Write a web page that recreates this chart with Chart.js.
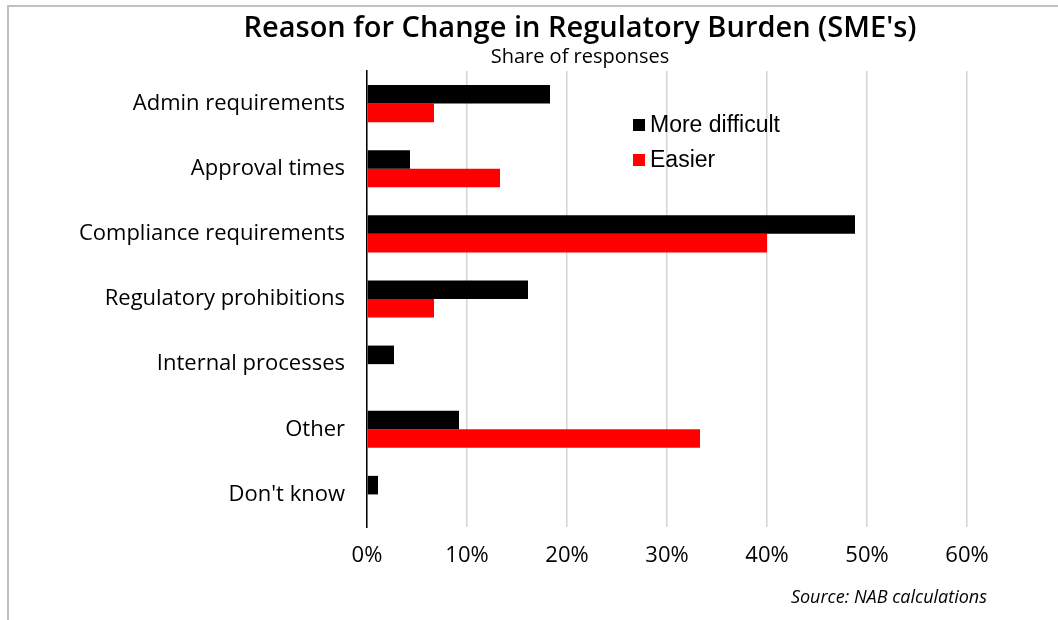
<!DOCTYPE html>
<html>
<head>
<meta charset="utf-8">
<script src="https://cdn.jsdelivr.net/npm/chart.js@4"></script>
<style>
    body { margin: 0; background: #fff; }
    #wrap { position: relative; width: 1058px; height: 620px; }
    #frame { position: absolute; left: 7px; top: 5px; right: 0; bottom: 0; border-top: 2px solid #c0c0c0; border-left: 2px solid #c0c0c0; }
    canvas { position: absolute; left: 0; top: 0; }
</style>
</head>
<body>
<div id="wrap">
    <div id="frame"></div>
    <canvas id="burdenChart" width="1058" height="620"></canvas>
</div>
<script>
// categories and values (share of responses, %)
const categories = ["Admin requirements", "Approval times", "Compliance requirements",
    "Regulatory prohibitions", "Internal processes", "Other", "Don't know"];
const moreDifficult = [18.3, 4.3, 48.8, 16.1, 2.7, 9.2, 1.1];
const easier = [6.7, 13.3, 40.0, 6.7, 0, 33.3, 0];
const xTicks = [0, 10, 20, 30, 40, 50, 60];

const titleText = "Reason for Change in Regulatory Burden (SME's)";
const subtitleText = "Share of responses";
const sourceText = "Source: NAB calculations";

const FONT = "'Open Sans', 'Noto Sans', sans-serif";

// title block, legend inside the plot, and the source note
const notesPlugin = {
    id: 'notes',
    afterDraw(chart) {
        const ctx = chart.ctx;
        const area = chart.chartArea;
        ctx.save();
        ctx.fillStyle = '#000';
        ctx.textAlign = 'center';
        ctx.textBaseline = 'middle';
        ctx.font = "600 29px " + FONT;
        ctx.fillText(titleText, 580, 29);
        ctx.font = "20px " + FONT;
        ctx.fillText(subtitleText, 580, 57);

        ctx.textAlign = 'left';
        ctx.font = "23px 'Liberation Sans', Arial, sans-serif";
        chart.data.datasets.forEach((ds, i) => {
            const y = area.top + 54 + i * 35;
            ctx.fillStyle = ds.backgroundColor;
            ctx.fillRect(area.left + 266, y - 6, 12, 12);
            ctx.fillStyle = '#000';
            ctx.fillText(ds.label, area.left + 283, y + 1);
        });

        ctx.font = "italic 18px " + FONT;
        ctx.textAlign = 'right';
        ctx.fillText(sourceText, 987, 598);
        ctx.restore();
    }
};

const ctx = document.getElementById('burdenChart').getContext('2d');
const burdenChart = new Chart(ctx, {
    type: 'bar',
    data: {
        labels: categories,
        datasets: [
            { label: "More difficult", data: moreDifficult, backgroundColor: '#000000' },
            { label: "Easier", data: easier, backgroundColor: '#ff0000' }
        ]
    },
    options: {
        indexAxis: 'y',
        responsive: false,
        animation: false,
        categoryPercentage: 0.57,
        barPercentage: 1,
        layout: { padding: { left: 0, right: 91, top: 71, bottom: 0 } },
        plugins: {
            legend: { display: false },
            tooltip: { enabled: false },
            title: { display: false }
        },
        scales: {
            x: {
                min: 0,
                max: 60,
                afterBuildTicks: axis => { axis.ticks = xTicks.map(v => ({ value: v })); },
                afterFit: axis => { axis.height = 93; },
                ticks: {
                    color: '#000',
                    padding: 16,
                    font: { family: FONT, size: 22 },
                    callback: v => v + '%'
                },
                grid: { color: '#d4d4d4', lineWidth: 1.5, drawTicks: false },
                border: { display: false }
            },
            y: {
                afterFit: axis => { axis.width = 367; },
                ticks: {
                    color: '#000',
                    padding: 22,
                    font: { family: FONT, size: 22 }
                },
                grid: { display: false, drawTicks: false },
                border: { display: true, color: '#000', width: 1.5 }
            }
        }
    },
    plugins: [notesPlugin]
});
</script>
</body>
</html>
